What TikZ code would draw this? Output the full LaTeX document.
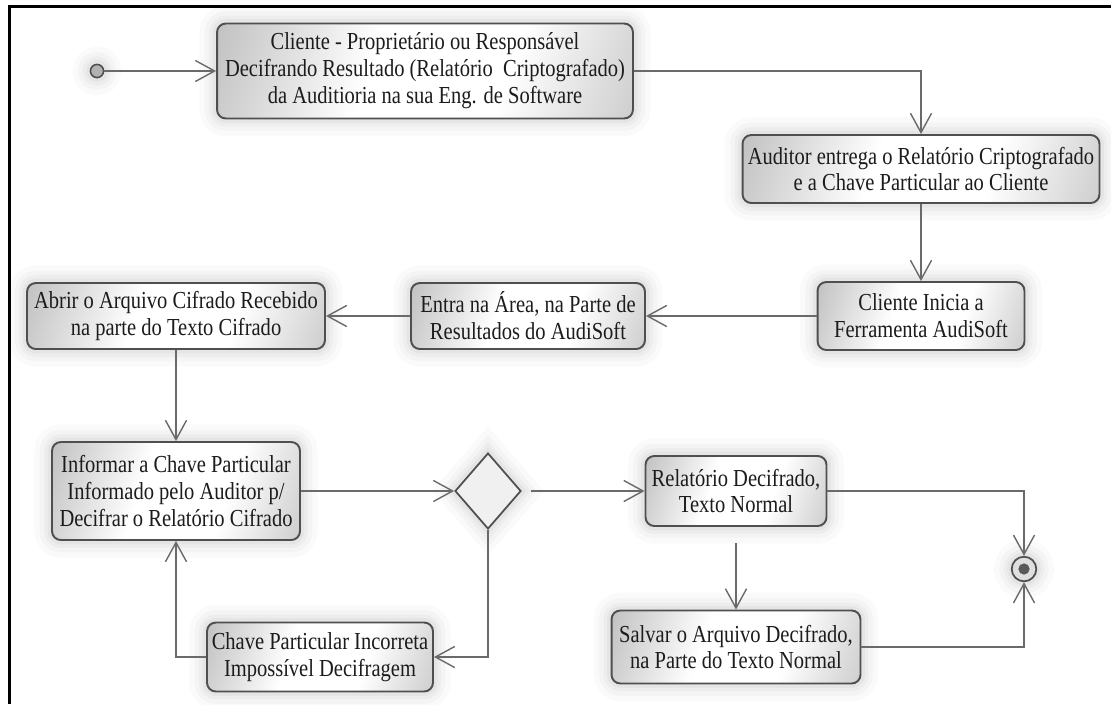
\documentclass[tikz,border=0pt]{standalone}
\usepackage{fontspec}
\setmainfont{Liberation Serif}[FakeStretch=0.84]
\usepackage{tikz}
\usetikzlibrary{shapes.geometric, arrows.meta, positioning, calc}
\definecolor{edgegray}{HTML}{4F4F4F}
\definecolor{linegray}{HTML}{6A6A6A}
\definecolor{boxshade}{HTML}{ABABAB}
\definecolor{textdark}{HTML}{1C1C1C}
\pgfdeclarehorizontalshading{boxshine}{100bp}{color(0bp)=(boxshade); color(10bp)=(boxshade); color(42bp)=(white); color(62bp)=(white); color(92bp)=(boxshade!90); color(100bp)=(boxshade!90)}

\begin{document}
\begin{tikzpicture}[x=0.02cm, y=-0.02cm,
        halo/.style={preaction={draw=black, draw opacity=0.018, line width=20pt},
                     preaction={draw=black, draw opacity=0.022, line width=14pt},
                     preaction={draw=black, draw opacity=0.028, line width=9pt},
                     preaction={draw=black, draw opacity=0.035, line width=5pt}},
        activity/.style={rectangle, rounded corners=5pt, draw=edgegray, line width=1.1pt, halo,
                         shade, shading=boxshine, shading angle=-18,
                         text=textdark, align=center, inner sep=1pt,
                         font=\fontsize{13.9}{15.3}\selectfont},
        decision/.style={diamond, draw=edgegray, line width=1pt, fill=gray!12, halo,
                         minimum width=1.32cm, minimum height=1.52cm, inner sep=0pt},
        flow/.style={draw=linegray, line width=0.8pt, -{Straight Barb[length=11pt, width=12pt]}}]

        \useasboundingbox (0,0) rectangle (1111,704);
        % Frame
        \draw[line width=2pt] (9.5,704) -- (9.5,6.5) -- (1111,6.5);

        % Nodes - start and end
        \node [circle, draw=edgegray, line width=0.9pt, fill=gray!60, minimum size=7.5pt, inner sep=0pt, halo] (inicio) at (97,71) {};
        \node [circle, draw=edgegray, line width=1pt, fill=gray!25, minimum size=14pt, inner sep=0pt, halo,
               path picture={\fill[gray!70!black] (path picture bounding box.center) circle (3.2pt);}] (fim) at (1024,569) {};

        % Nodes - activities
        \node [activity, minimum width=8.32cm, minimum height=1.9cm] (cliente) at (425,71)
            {Cliente - Proprietário ou Responsável\\Decifrando Resultado (Relatório~ Criptografado)\\da Auditioria na sua Eng. de Software};
        \node [activity, minimum width=7.14cm, minimum height=1.36cm] (auditor) at (921,169)
            {Auditor entrega o Relatório Criptografado\\e a Chave Particular ao Cliente};
        \node [activity, minimum width=4.14cm, minimum height=1.36cm] (inicia) at (921,316)
            {Cliente Inicia a\\Ferramenta AudiSoft};
        \node [activity, minimum width=4.68cm, minimum height=1.32cm] (entra) at (528,316)
            {Entra na Área, na Parte de\\Resultados do AudiSoft};
        \node [activity, minimum width=5.96cm, minimum height=1.32cm] (abrir) at (176,316)
            {Abrir o Arquivo Cifrado Recebido\\na parte do Texto Cifrado};
        \node [activity, minimum width=4.96cm, minimum height=1.96cm] (informar) at (176,491)
            {Informar a Chave Particular\\Informado pelo Auditor p/\\Decifrar o Relatório Cifrado};
        \node [decision] (decisao) at (488,491) {};
        \node [activity, minimum width=3.62cm, minimum height=1.4cm] (decifrado) at (736,491)
            {Relatório Decifrado,\\Texto Normal};
        \node [activity, minimum width=4.98cm, minimum height=1.46cm] (salvar) at (736,647)
            {Salvar o Arquivo Decifrado,\\na Parte do Texto Normal};
        \node [activity, minimum width=4.52cm, minimum height=1.38cm] (incorreta) at (320,657)
            {Chave Particular Incorreta\\Impossível Decifragem};

        % Arrows
        \path [flow] (inicio) -- (cliente);
        \path [flow] (cliente.east) -| (auditor.north);
        \path [flow] (auditor) -- (inicia);
        \path [flow] (inicia) -- (entra);
        \path [flow] (entra) -- (abrir);
        \path [flow] (abrir) -- (informar);
        \path [flow] (informar) -- (decisao);
        \path [flow, shorten <=5pt] (decisao) -- (decifrado);
        \path [flow] (decisao.south) |- (incorreta.east);
        \path [flow] (incorreta.west) -| (informar.south);
        \path [flow, shorten <=9pt] (decifrado) -- (salvar);
        \path [flow] (decifrado.east) -| (fim.north);
        \path [flow] (salvar.east) -| (fim.south);
    \end{tikzpicture}
\end{document}
